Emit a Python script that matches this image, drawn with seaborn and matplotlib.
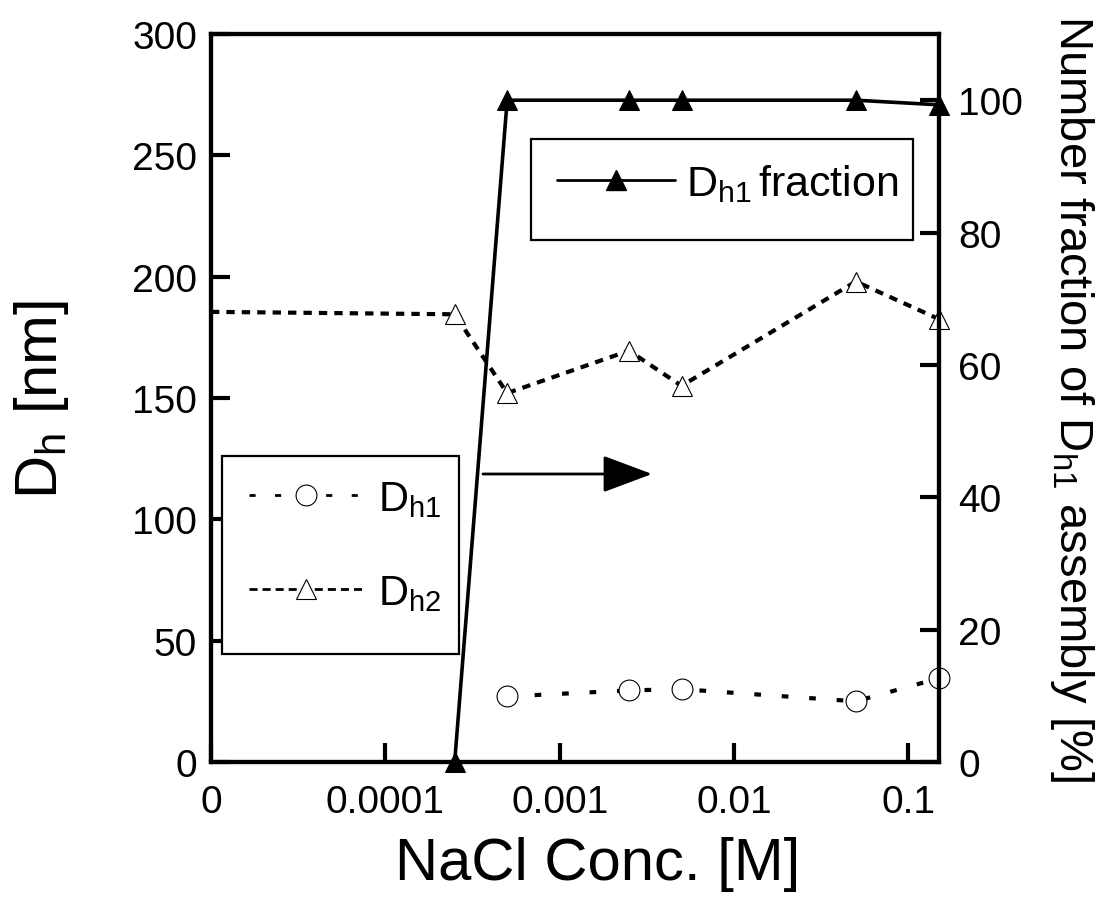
import numpy as np
import pandas as pd
import matplotlib
matplotlib.use("Agg")
import matplotlib.pyplot as plt
from matplotlib.lines import Line2D
from matplotlib.patches import Rectangle
from matplotlib.ticker import FixedLocator, FixedFormatter, NullLocator
import seaborn as sns

# NaCl concentration [M]; the salt-free sample is shown at the "0" slot of the log axis
nacl_conc = [0, 0.00025, 0.0005, 0.0025, 0.005, 0.05, 0.15]
dh1_nm = [np.nan, np.nan, 27, 29.5, 30, 25, 34.5]
dh2_nm = [185.5, 184.5, 152, 169.5, 155, 198, 182.5]
dh1_fraction = [np.nan, 0, 100, 100, 100, 100, 99.3]

zero_slot = 1e-5
x_tick_values = [1e-5, 1e-4, 1e-3, 1e-2, 1e-1]
x_tick_labels = ["0", "0.0001", "0.001", "0.01", "0.1"]
left_ticks = [0, 50, 100, 150, 200, 250, 300]
right_ticks = [0, 20, 40, 60, 80, 100]

df = pd.DataFrame({"conc": nacl_conc, "dh1": dh1_nm, "dh2": dh2_nm, "frac": dh1_fraction})
df["x"] = df["conc"].replace(0, zero_slot)

sns.set_theme(style="ticks")
plt.rcParams["font.family"] = ["Liberation Sans", "DejaVu Sans"]
plt.rcParams["mathtext.fontset"] = "custom"
plt.rcParams["mathtext.rm"] = "Liberation Sans"
plt.rcParams["mathtext.it"] = "Liberation Sans:italic"
plt.rcParams["mathtext.bf"] = "Liberation Sans:bold"
for key in ("text.color", "axes.labelcolor", "xtick.color", "ytick.color", "axes.edgecolor"):
    plt.rcParams[key] = "black"

fig = plt.figure(figsize=(11.08, 9.12), dpi=100)
ax = fig.add_axes([0.1904, 0.1634, 0.6571, 0.7982])
ax2 = ax.twinx()

LW_DATA = 3.0
dh1_dash = (0, (1.6, 5.0))
dh2_dash = (0, (2.0, 1.7))

# D_h1 (small assemblies)
d1 = df.dropna(subset=["dh1"])
sns.lineplot(data=d1, x="x", y="dh1", ax=ax, color="black", linewidth=LW_DATA,
             linestyle=dh1_dash, marker="o", markersize=15, markerfacecolor="white",
             markeredgecolor="black", markeredgewidth=0.8, errorbar=None, legend=False,
             clip_on=False)

# D_h2 (large assemblies); no marker at the salt-free point on the axis edge
sns.lineplot(data=df, x="x", y="dh2", ax=ax, color="black", linewidth=LW_DATA,
             linestyle=dh2_dash, marker="^", markersize=14, markerfacecolor="white",
             markeredgecolor="black", markeredgewidth=0.8, markevery=list(range(1, len(df))),
             errorbar=None, legend=False, clip_on=False)

# number fraction of D_h1 assembly on the right axis
d3 = df.dropna(subset=["frac"])
sns.lineplot(data=d3, x="x", y="frac", ax=ax2, color="black", linewidth=2.6,
             marker="^", markersize=14, markerfacecolor="black", markeredgecolor="black",
             errorbar=None, legend=False, clip_on=False)

ax.set_xscale("log")
ax.set_xlim(zero_slot, 0.15)
ax.set_ylim(0, 300)
ax2.set_ylim(0, 110)

ax.xaxis.set_major_locator(FixedLocator(x_tick_values))
ax.xaxis.set_major_formatter(FixedFormatter(x_tick_labels))
ax.xaxis.set_minor_locator(NullLocator())
ax.set_yticks(left_ticks)
ax2.set_yticks(right_ticks)

for a in (ax, ax2):
    for s in a.spines.values():
        s.set_visible(True)
        s.set_linewidth(3)
        s.set_color("black")
    a.grid(False)

ax.tick_params(axis="x", which="major", direction="in", length=14, width=3,
               labelsize=28, pad=16, top=False, bottom=True)
ax.tick_params(axis="y", which="major", direction="in", length=14, width=3,
               labelsize=28, pad=10, left=True, right=False)
ax2.tick_params(axis="y", which="major", direction="in", length=14, width=3,
                labelsize=28, pad=14, left=False, right=True)
ax2.tick_params(axis="x", which="both", bottom=False, top=False, labelbottom=False)

ax.set_xlabel("NaCl Conc. [M]", fontsize=43)
ax.xaxis.set_label_coords(0.5316, -0.102)
ax.set_ylabel(r"D$_\mathregular{h}$ [nm]", fontsize=43, labelpad=44)
ax2.set_ylabel(r"Number fraction of D$_\mathregular{h1}$ assembly [%]", fontsize=34,
               rotation=270, va="bottom", labelpad=18)

# legend frames
ax.add_patch(Rectangle((0.0151, 0.1484), 0.3255, 0.272, transform=ax.transAxes,
                       facecolor="white", edgecolor="black", linewidth=1.6, zorder=4,
                       clip_on=False))
ax2.add_patch(Rectangle((0.4396, 0.717), 0.5247, 0.1387, transform=ax2.transAxes,
                        facecolor="white", edgecolor="black", linewidth=1.6, zorder=4,
                        clip_on=False))

# legend entries
h_dh1 = Line2D([], [], color="black", linewidth=2.0, linestyle=(0, (2.2, 7.0)), marker="o",
               markersize=15, markerfacecolor="white", markeredgecolor="black",
               markeredgewidth=0.8)
h_dh2 = Line2D([], [], color="black", linewidth=2.0, linestyle=(0, (2.9, 1.8)), marker="^",
               markersize=14, markerfacecolor="white", markeredgecolor="black",
               markeredgewidth=0.8)
h_frac = Line2D([], [], color="black", linewidth=2.0, marker="^", markersize=14,
                markerfacecolor="black", markeredgecolor="black")

leg_common = dict(frameon=False, borderaxespad=0, borderpad=0, shadow=False)
leg1 = ax.legend([h_dh1, h_dh2], [r"D$_\mathregular{h1}$", r"D$_\mathregular{h2}$"],
                 loc="center left", bbox_to_anchor=(0.0522, 0.2967), fontsize=30,
                 handlelength=2.75, handletextpad=0.35, labelspacing=1.3, **leg_common)
leg1.set_zorder(6)

leg2 = ax2.legend([h_frac], [r"$\mathregular{D_{h1}\,fraction}$"], loc="center left",
                  bbox_to_anchor=(0.4753, 0.7953), fontsize=31, handlelength=2.75,
                  handletextpad=0.25, **leg_common)
leg2.set_zorder(6)

# arrow pointing to the right-hand axis
ax.annotate("", xy=(0.6058, 0.3956), xytext=(0.3736, 0.3956), xycoords="axes fraction",
            textcoords="axes fraction",
            arrowprops=dict(arrowstyle="-|>,head_length=1.55,head_width=0.58",
                            mutation_scale=20, lw=2, color="black", shrinkA=0, shrinkB=0))

fig.savefig("out.png", dpi=100, facecolor="white")
